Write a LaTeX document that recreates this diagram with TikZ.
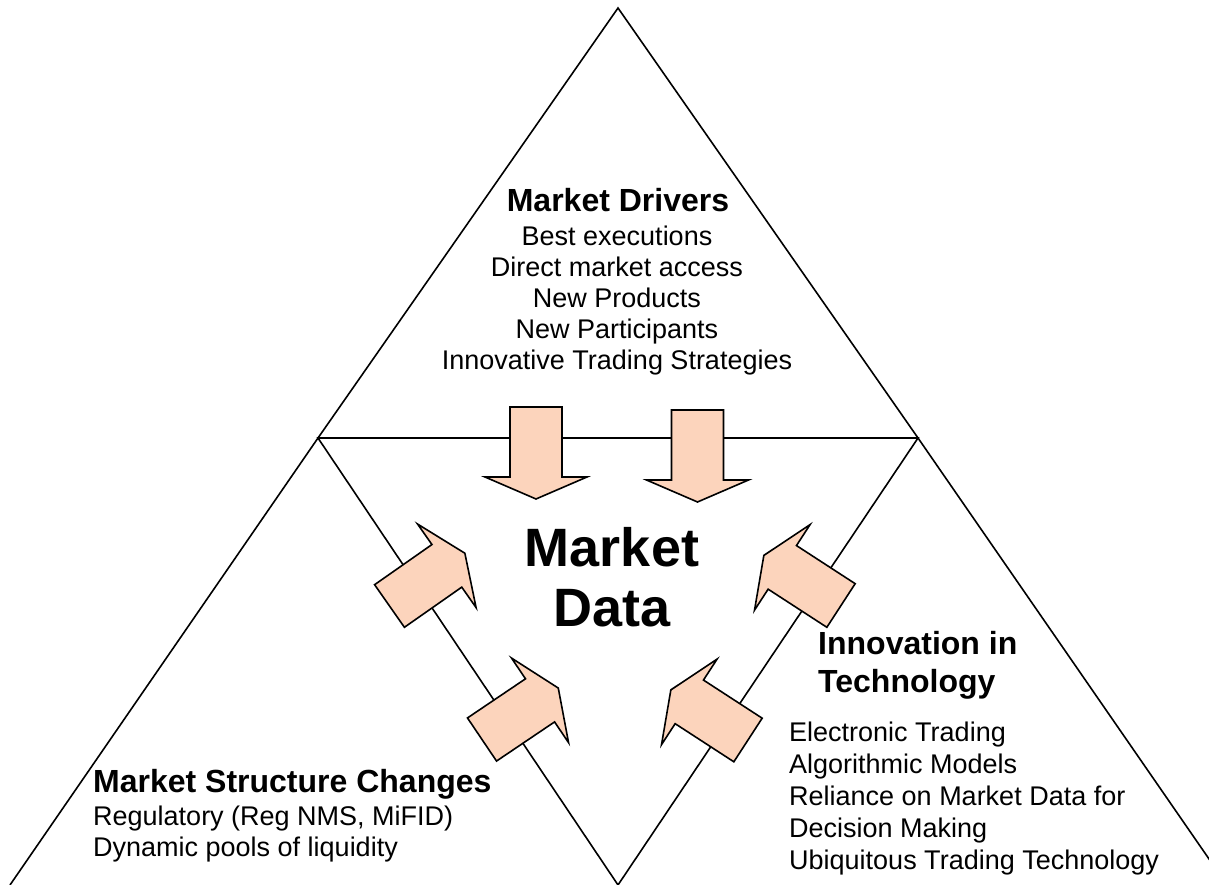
\documentclass[tikz,border=0pt]{standalone}
\usepackage{fontspec}
\setmainfont{Liberation Sans}
\definecolor{peach}{RGB}{252,212,188}
\tikzset{
  edge/.style={line width=1.6pt,line join=miter},
  arrowbody/.style={draw=black,line width=1.6pt,fill=peach,line join=miter},
  blockarrow/.pic={\draw[arrowbody] (0,-26)--(70,-26)--(70,-51)--(92,0)--(70,51)--(70,26)--(0,26)--cycle;},
  headtext/.style={font=\fontsize{32}{38}\selectfont\bfseries,inner sep=0pt},
  listtext/.style={font=\fontsize{27}{31.5}\selectfont,inner sep=0pt},
}

\begin{document}
\begin{tikzpicture}[x=1pt,y=1pt]
\useasboundingbox (0,0) rectangle (1209,885);
\clip (0,0) rectangle (1209,885);
\coordinate (apex) at (618,877);
\coordinate (lmid) at (318,447);
\coordinate (rmid) at (918,447);
\coordinate (bot) at (618,0);
\coordinate (lcorner) at (10,0);
\coordinate (rcorner) at (1227,0);
\draw[edge] (lcorner)--(lmid)--(apex)--(rmid)--(rcorner);
\draw[edge] (lmid)--(rmid)--(bot)--cycle;

\pic[rotate=-90] at (536,478) {blockarrow};
\pic[rotate=-90] at (697.5,475) {blockarrow};
\pic[rotate=35] at (389.5,279) {blockarrow};
\pic[rotate=34] at (482,145.5) {blockarrow};
\pic[rotate=147] at (748,145) {blockarrow};
\pic[rotate=147] at (841,279.5) {blockarrow};

% base anchor sits on the last line
\node[headtext,anchor=base] (drivhead) at (618,673) {Market Drivers};
\node[listtext,font=\fontsize{27}{31}\selectfont,align=center,anchor=base] (drivlist) at (617,515) {Best executions\\Direct market access\\New Products\\New Participants\\Innovative Trading Strategies};
\node[font=\fontsize{54}{60}\selectfont\bfseries,align=center,anchor=base,inner sep=0pt] (mdata) at (612,258) {Market\\Data};
\node[headtext,align=left,anchor=base west] (techhead) at (818,192) {Innovation in\\Technology};
\node[listtext,font=\fontsize{27}{32}\selectfont,align=left,anchor=base west] (techlist) at (789,15) {Electronic Trading\\Algorithmic Models\\Reliance on Market Data for\\Decision Making\\Ubiquitous Trading Technology};
\node[headtext,anchor=base west] (structhead) at (93,92) {Market Structure Changes};
\node[listtext,align=left,anchor=base west] (structlist) at (93,28) {Regulatory (Reg NMS, MiFID)\\Dynamic pools of liquidity};
\end{tikzpicture}
\end{document}
